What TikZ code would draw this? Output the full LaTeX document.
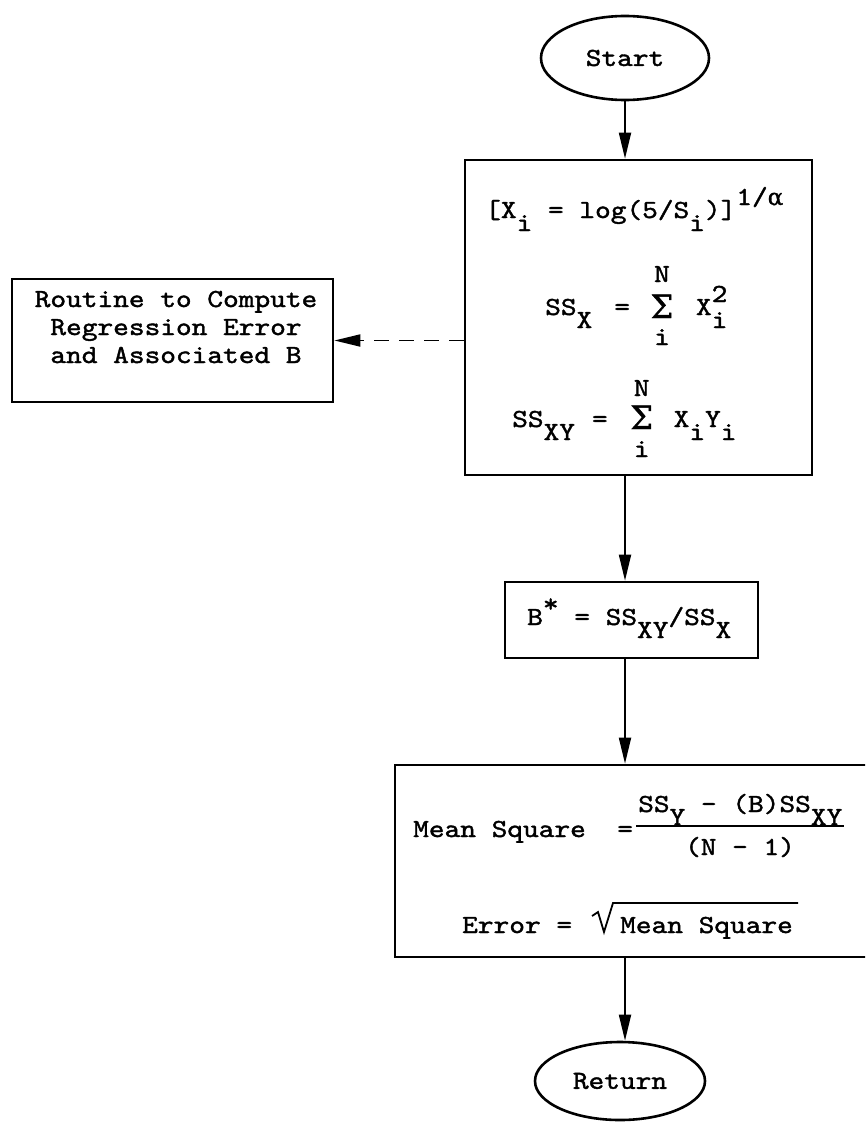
\documentclass[tikz,border=0pt]{standalone}
\usepackage{fontspec}
\newfontfamily\tw[FakeStretch=1.15,FakeBold=1.5]{lmmono10-regular.otf}
\newfontfamily\grk[FakeBold=1.2]{DejaVu Serif}
\usetikzlibrary{arrows.meta,shapes.geometric}
\newcommand\lo[1]{\raisebox{-0.5em}{#1}}
\newcommand\hi[1]{\raisebox{0.5em}{#1}}
\newcommand\alp{{\grk\fontsize{23}{23}\selectfont α}}
% summation with N above and i below, full-size limits
\newcommand\sumN[3]{\makebox[24pt][c]{%
  \makebox[0pt][c]{\raisebox{#1}{N}}%
  \makebox[0pt][c]{\raisebox{#2}{\grk\fontsize{32}{32}\selectfont Σ}}%
  \makebox[0pt][c]{\raisebox{#3}{i}}}}
\begin{document}
\begin{tikzpicture}[x=1pt,y=-1pt,
  every node/.style={font=\tw\fontsize{26}{28}\selectfont, inner sep=0pt},
  box/.style={draw, line width=2.6pt, rectangle},
  oval/.style={draw, line width=2.6pt, ellipse},
  txt/.style={anchor=base west},
  ctxt/.style={anchor=base},
  rule/.style={line width=1.8pt},
  arr/.style={line width=1.8pt, -{Triangle[length=26pt,width=12pt]}},
  dasharr/.style={arr, dash pattern=on 15pt off 10pt}]
\clip (0,0) rectangle (865,1124);
\fill[white] (0,0) rectangle (865,1124);

% shapes
\node[oval, minimum width=168pt, minimum height=84pt] (start) at (625,58) {\raisebox{-4pt}{Start}};
\node[box, minimum width=347pt, minimum height=315pt] (big) at (638.5,317.5) {};
\node[box, minimum width=321pt, minimum height=123pt] (routine) at (172.5,340.5) {};
\node[box, minimum width=253pt, minimum height=76pt] (bstar) at (631.5,620) {};
\node[box, minimum width=485pt, minimum height=192pt] (mean) at (637.5,861) {};
\node[oval, minimum width=170pt, minimum height=78pt] (ret) at (620,1081) {Return};

% texts
\node[ctxt] (r1) at (176,307) {Routine to Compute};
\node[ctxt] (r2) at (176,335) {Regression Error};
\node[ctxt] (r3) at (176,363) {and Associated B};

\node[txt] (l1) at (485,218) {[X\lo{i}~=~log(5/S\lo{i})]\hi{1/\alp}};
\node[txt] (l2) at (545,315) {SS\lo{X}\hspace{22pt}=\hspace{20pt}\sumN{33pt}{-3pt}{-30pt}\hspace{22pt}X\rlap{\hi{2}}\lo{i}};
\node[txt] (l3) at (512,427) {SS\lo{XY}\hspace{17pt}=\hspace{22pt}\sumN{31pt}{-2pt}{-30pt}\hspace{20pt}X\lo{i}Y\lo{i}};

\node[txt] (b1) at (527,625) {B\hi{*}~=~SS\lo{XY}/SS\lo{X}};

\node[txt] (m1) at (413,837) {Mean~Square~~=};
\node[txt] (num) at (638,812) {SS\lo{Y}~-~(B)SS\lo{XY}};
\node[ctxt] (den) at (740,855) {(N~-~1)};
\draw[rule] (636,826) -- (844,826);

\node[txt] (m2) at (462,933) {Error~=};
\node[txt] (m3) at (620,933) {Mean~Square};
\draw[rule, line join=miter] (592,916) -- (598,912) -- (604,932) -- (613,903) -- (798,903);

% connectors
\draw[arr] (start) -- (start |- big.north);
\draw[arr] (big.south -| start) -- (bstar.north -| start);
\draw[arr] (bstar.south -| start) -- (mean.north -| start);
\draw[arr] (mean.south -| start) -- (start |- ret.north);
\draw[dasharr] (routine.east -| big.west) -- (routine.east);
\end{tikzpicture}
\end{document}
